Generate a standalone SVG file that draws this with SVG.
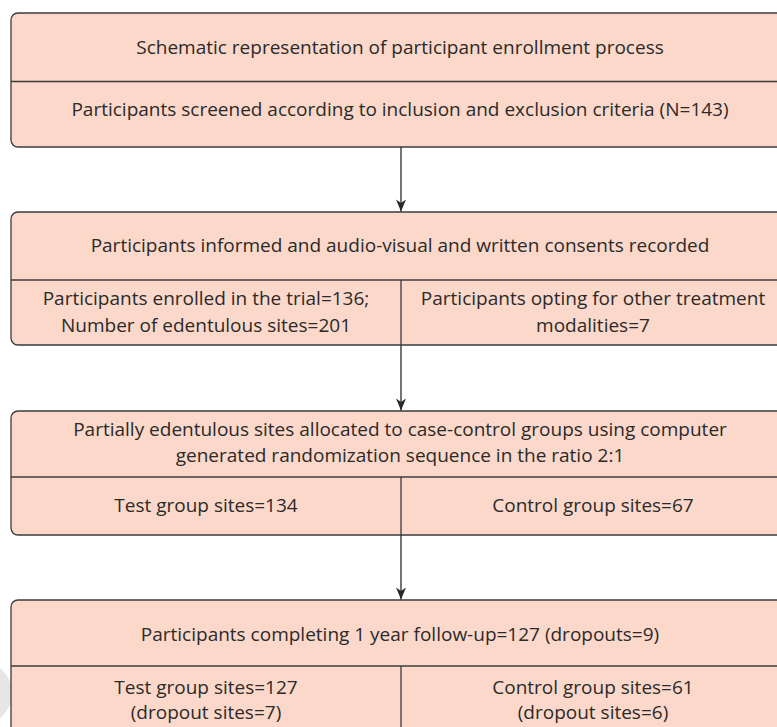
<svg xmlns="http://www.w3.org/2000/svg" width="777" height="727" viewBox="0 0 777 727">
<defs>
<style>
.box{fill:#fbd8ca;stroke:#3c3b3b;stroke-width:1.3}
.div{stroke:#3c3b3b;stroke-width:1.3;fill:none}
.t{font-family:"Open Sans","Liberation Sans",sans-serif;font-size:19px;fill:#2b2a29;text-anchor:middle}
.edge{stroke:#2b2a29;stroke-width:1.3;fill:none}
</style>
<marker id="ah" markerUnits="userSpaceOnUse" markerWidth="14" markerHeight="14" viewBox="-13 -7 14 14" refX="0" refY="0" orient="auto">
<path d="M0,0 L-12,-5 L-8.5,0 L-12,5 Z" fill="#2b2a29"/>
</marker>
</defs>
<rect width="777" height="727" fill="#ffffff"/>
<circle cx="-20" cy="693" r="32" fill="#e6e6e8"/>

<g id="n1">
<rect class="box" x="11" y="13" width="775" height="134" rx="7"/>
<line class="div" x1="11" y1="81.5" x2="786" y2="81.5"/>
<text class="t" x="400" y="54">Schematic representation of participant enrollment process</text>
<text class="t" x="400" y="116">Participants screened according to inclusion and exclusion criteria (N=143)</text>
</g>

<g id="n2">
<rect class="box" x="11" y="212" width="775" height="133" rx="7"/>
<line class="div" x1="11" y1="280" x2="786" y2="280"/>
<line class="div" x1="401" y1="280" x2="401" y2="345"/>
<text class="t" x="400" y="252">Participants informed and audio-visual and written consents recorded</text>
<text class="t" x="206" y="305">Participants enrolled in the trial=136;</text>
<text class="t" x="206" y="332">Number of edentulous sites=201</text>
<text class="t" x="593" y="305">Participants opting for other treatment</text>
<text class="t" x="593" y="332">modalities=7</text>
</g>

<g id="n3">
<rect class="box" x="11" y="411" width="775" height="124" rx="7"/>
<line class="div" x1="11" y1="477" x2="786" y2="477"/>
<line class="div" x1="401" y1="477" x2="401" y2="535"/>
<text class="t" x="400" y="436">Partially edentulous sites allocated to case-control groups using computer</text>
<text class="t" x="400" y="462">generated randomization sequence in the ratio 2:1</text>
<text class="t" x="206" y="512">Test group sites=134</text>
<text class="t" x="593" y="512">Control group sites=67</text>
</g>

<g id="n4">
<rect class="box" x="11" y="600" width="775" height="140" rx="7"/>
<line class="div" x1="11" y1="666" x2="786" y2="666"/>
<line class="div" x1="401" y1="666" x2="401" y2="740"/>
<text class="t" x="400" y="641">Participants completing 1 year follow-up=127 (dropouts=9)</text>
<text class="t" x="206" y="694">Test group sites=127</text>
<text class="t" x="206" y="719">(dropout sites=7)</text>
<text class="t" x="593" y="694">Control group sites=61</text>
<text class="t" x="593" y="719">(dropout sites=6)</text>
</g>

<g id="connectors">
<line class="edge" x1="401" y1="147" x2="401" y2="211.5" marker-end="url(#ah)"/>
<line class="edge" x1="401" y1="345" x2="401" y2="410.5" marker-end="url(#ah)"/>
<line class="edge" x1="401" y1="535" x2="401" y2="599.5" marker-end="url(#ah)"/>
</g>
</svg>
